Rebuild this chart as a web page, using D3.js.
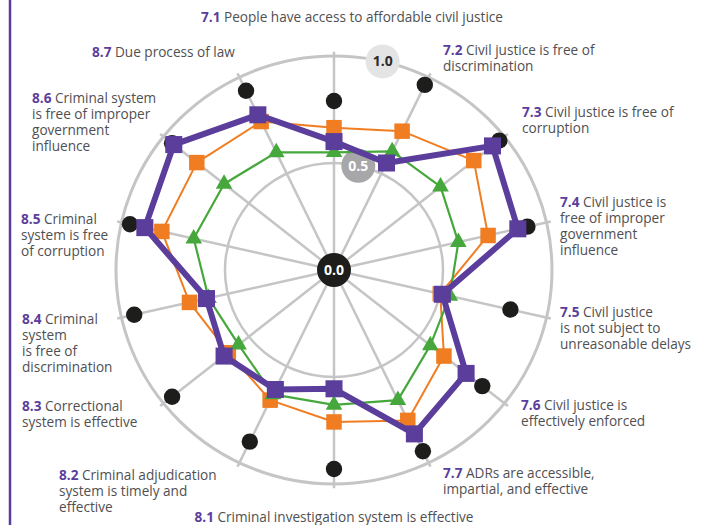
<!DOCTYPE html>
<html>
<head>
<meta charset="utf-8">
<script src="https://cdn.jsdelivr.net/npm/d3@7"></script>
<style>
  body { margin: 0; background: #fff; }
  svg { display: block; }
  text { font-family: "Open Sans", Lato, sans-serif; }
</style>
</head>
<body>
<div class="vis-holder"></div>
<script>
const width = 704;
const height = 525;

// axes, clockwise from the top
const axisIds = ["7.1", "7.2", "7.3", "7.4", "7.5", "7.6", "7.7",
                 "8.1", "8.2", "8.3", "8.4", "8.5", "8.6", "8.7"];
const axisLabels = [
    ["People have access to affordable civil justice"],
    ["Civil justice is free of", "discrimination"],
    ["Civil justice is free of", "corruption"],
    ["Civil justice is", "free of improper", "government", "influence"],
    ["Civil justice", "is not subject to", "unreasonable delays"],
    ["Civil justice is", "effectively enforced"],
    ["ADRs are accessible,", "impartial, and effective"],
    ["Criminal investigation system is effective"],
    ["Criminal adjudication", "system is timely and", "effective"],
    ["Correctional", "system is effective"],
    ["Criminal", "system", "is free of", "discrimination"],
    ["Criminal", "system is free", "of corruption"],
    ["Criminal system", "is free of improper", "government", "influence"],
    ["Due process of law"]
];

// series values (0 - 1)
const topScores = [0.79, 0.96, 0.97, 0.91, 0.83, 0.87, 0.94, 0.93, 0.89, 0.95, 0.94, 0.96, 0.95, 0.93];
const orangeScores = [0.665, 0.72, 0.82, 0.725, 0.50, 0.645, 0.78, 0.71, 0.675, 0.62, 0.68, 0.81, 0.805, 0.77];
const greenScores = [0.55, 0.615, 0.625, 0.585, 0.545, 0.565, 0.675, 0.63, 0.645, 0.56, 0.59, 0.66, 0.645, 0.61];
const purpleScores = [0.60, 0.555, 0.93, 0.865, 0.51, 0.775, 0.85, 0.555, 0.62, 0.645, 0.60, 0.89, 0.94, 0.805];

const gridLevels = [0.5, 1.0];
const tickLabels = ["0.0", "0.5", "1.0"];

// label anchor spots (x, first baseline, anchor)
const labelPos = [
    [352, 22, "middle"], [443, 55], [522, 117], [560, 207], [560, 317], [521, 410], [443, 478],
    [334, 522, "middle"], [59, 480], [22, 411], [22, 324], [21, 224], [32, 103], [92, 57]
];

const cx = 334, cy = 270;
const purple = "#5b3d9b";
const orange = "#f07d21";
const green = "#46a83c";
const black = "#1d1d1b";
const gridColor = "#c5c5c7";
const textColor = "#505052";

const svg = d3.select(".vis-holder").append("svg")
    .attr("width", width)
    .attr("height", height);

const rX = d3.scaleLinear().domain([0, 1]).range([0, 218]);
const rY = d3.scaleLinear().domain([0, 1]).range([0, 214]);
const angle = d3.scaleLinear().domain([0, axisIds.length]).range([0, 2 * Math.PI]);

const px = (v, i) => cx + rX(v) * Math.sin(angle(i));
const py = (v, i) => cy - rY(v) * Math.cos(angle(i));

// left rule
svg.append("line")
    .attr("x1", 10).attr("x2", 10)
    .attr("y1", 0).attr("y2", height)
    .attr("stroke", purple)
    .attr("stroke-width", 2.5);

// grid
svg.selectAll("ellipse.grid")
    .data(gridLevels)
    .enter().append("ellipse")
    .attr("class", "grid")
    .attr("cx", cx).attr("cy", cy)
    .attr("rx", d => rX(d))
    .attr("ry", d => rY(d))
    .attr("fill", "none")
    .attr("stroke", gridColor)
    .attr("stroke-width", d => d === 1 ? 3 : 2.5);

svg.selectAll("line.spoke")
    .data(axisIds)
    .enter().append("line")
    .attr("class", "spoke")
    .attr("x1", cx).attr("y1", cy)
    .attr("x2", (d, i) => px(1.02, i))
    .attr("y2", (d, i) => py(1.02, i))
    .attr("stroke", gridColor)
    .attr("stroke-width", 2.5);

// scale badges
const badgeAngle = 0.225;
const badges = [
    { t: tickLabels[0], v: 0, fill: black, color: "#fff" },
    { t: tickLabels[1], v: 0.5, fill: "#a7a7a9", color: "#fff" },
    { t: tickLabels[2], v: 1.0, fill: "#e4e4e5", color: "#2b2b2b" }
];
const badge = svg.selectAll("g.badge")
    .data(badges)
    .enter().append("g")
    .attr("class", "badge")
    .attr("transform", d => `translate(${cx + rX(d.v) * Math.sin(badgeAngle)},${cy - rY(d.v) * Math.cos(badgeAngle)})`);
badge.append("circle")
    .attr("r", 17)
    .attr("fill", d => d.fill);
badge.append("text")
    .attr("text-anchor", "middle")
    .attr("dy", "0.36em")
    .attr("font-size", 14)
    .attr("font-weight", 700)
    .attr("fill", d => d.color)
    .text(d => d.t);

// top scores: dots only
svg.selectAll("circle.top")
    .data(topScores)
    .enter().append("circle")
    .attr("class", "top")
    .attr("cx", (d, i) => px(d, i))
    .attr("cy", (d, i) => py(d, i))
    .attr("r", 8.2)
    .attr("fill", black);

function drawSeries(values, color, lineWidth, symbol, size) {
    const line = d3.line()
        .x((d, i) => px(d, i))
        .y((d, i) => py(d, i))
        .curve(d3.curveLinearClosed);
    svg.append("path")
        .datum(values)
        .attr("d", line)
        .attr("fill", "none")
        .attr("stroke", color)
        .attr("stroke-width", lineWidth)
        .attr("stroke-linejoin", "round");
    svg.append("g").selectAll("path")
        .data(values)
        .enter().append("path")
        .attr("d", d3.symbol().type(symbol).size(size))
        .attr("transform", (d, i) => `translate(${px(d, i)},${py(d, i)})`)
        .attr("fill", color);
}

drawSeries(orangeScores, orange, 2, d3.symbolSquare, 240);
drawSeries(greenScores, green, 2.2, d3.symbolTriangle, 120);
drawSeries(purpleScores, purple, 6, d3.symbolSquare, 290);

// axis labels, one text per line
axisIds.forEach(function(id, i) {
    const [x, y, anchor] = labelPos[i];
    const g = svg.append("g").attr("class", "axis-label");
    axisLabels[i].forEach(function(line, j) {
        const t = g.append("text")
            .attr("x", x)
            .attr("y", y + j * 16)
            .attr("text-anchor", anchor || "start")
            .attr("font-size", 13.6)
            .attr("fill", textColor);
        if (j === 0) {
            t.append("tspan")
                .attr("fill", purple)
                .attr("font-weight", 700)
                .text(id + " ");
            t.append("tspan").text(line);
        } else {
            t.text(line);
        }
    });
});
</script>
</body>
</html>
